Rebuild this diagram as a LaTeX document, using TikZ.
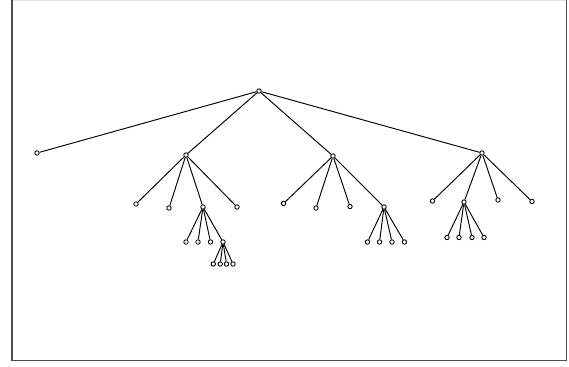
\documentclass[tikz,border=0pt]{standalone}
\begin{document}
\begin{tikzpicture}[x=1pt,y=-1pt,
  vtx/.style={circle,draw=black,fill=white,line width=0.9pt,inner sep=0pt,minimum size=4.4pt},
  edge/.style={draw=black,line width=0.95pt}]
\useasboundingbox (0,0) rectangle (569,366);
\fill[white] (0,0) rectangle (569,366);
\draw[black!12,line width=1pt] (12,0.5) -- (567,0.5);
\draw[black!70,line width=1.6pt] (12,0) -- (12,360.5) -- (566.5,360.5) -- (566.5,0);
% nodes
\node[vtx] (r) at (259,91) {};
\node[vtx] (a) at (37,153) {};
\node[vtx] (b) at (186,155) {};
\node[vtx] (c) at (333,156) {};
\node[vtx] (d) at (482,153) {};
\node[vtx] (b1) at (136,204) {};
\node[vtx] (b2) at (169,208) {};
\node[vtx] (b3) at (203,207) {};
\node[vtx] (b4) at (237,207) {};
\node[vtx] (b31) at (186,242) {};
\node[vtx] (b32) at (198,242) {};
\node[vtx] (b33) at (210.5,242) {};
\node[vtx] (b34) at (223,242) {};
\node[vtx] (b341) at (213.3,264) {};
\node[vtx] (b342) at (220.2,264) {};
\node[vtx] (b343) at (226.5,264) {};
\node[vtx] (b344) at (233,264) {};
\node[vtx] (c1) at (283.5,203.5) {};
\node[vtx] (c2) at (316,208) {};
\node[vtx] (c3) at (350,206.5) {};
\node[vtx] (c4) at (384,207) {};
\node[vtx] (c41) at (367.5,242) {};
\node[vtx] (c42) at (379.5,242) {};
\node[vtx] (c43) at (392,242) {};
\node[vtx] (c44) at (404.5,242) {};
\node[vtx] (d1) at (432.5,201) {};
\node[vtx] (d2) at (464,202) {};
\node[vtx] (d3) at (498,200) {};
\node[vtx] (d4) at (532,201.5) {};
\node[vtx] (d21) at (447,237.5) {};
\node[vtx] (d22) at (459,237.5) {};
\node[vtx] (d23) at (472,237.5) {};
\node[vtx] (d24) at (484,237.5) {};
% edges
\foreach \u/\v in {r/a,r/b,r/c,r/d,b/b1,b/b2,b/b3,b/b4,b3/b31,b3/b32,b3/b33,b3/b34,
  b34/b341,b34/b342,b34/b343,b34/b344,c/c1,c/c2,c/c3,c/c4,c4/c41,c4/c42,c4/c43,c4/c44,
  d/d1,d/d2,d/d3,d/d4,d2/d21,d2/d22,d2/d23,d2/d24}
  \draw[edge] (\u) -- (\v);
\end{tikzpicture}
\end{document}
